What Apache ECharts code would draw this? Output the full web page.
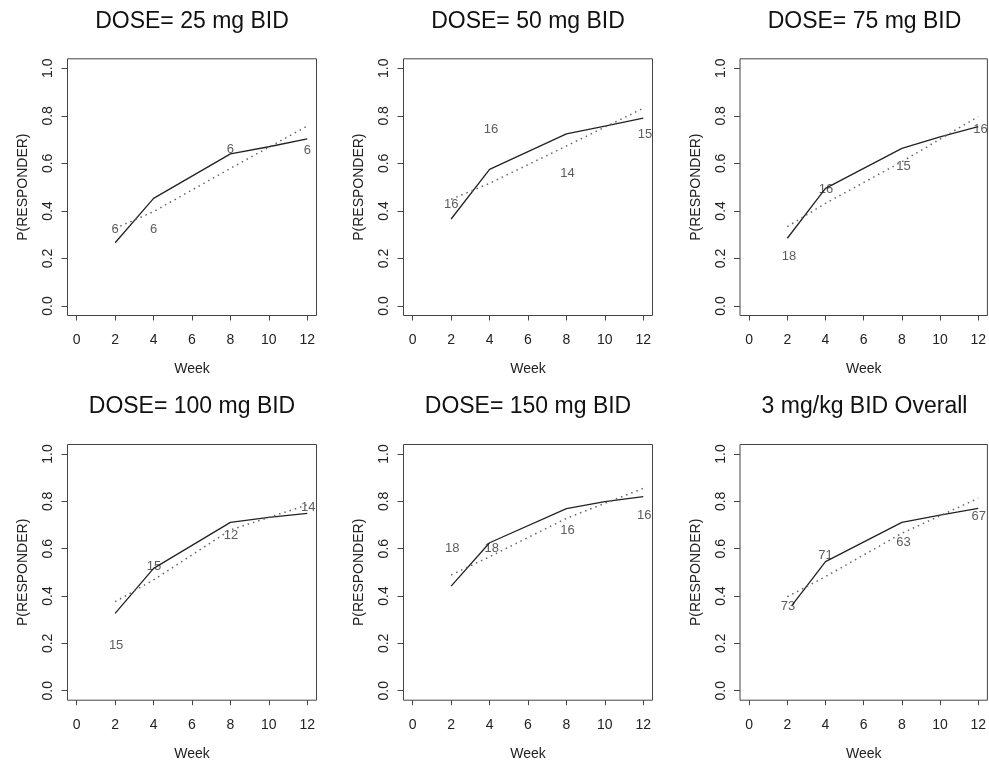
<!DOCTYPE html>
<html>
<head>
<meta charset="utf-8">
<script src="https://cdn.jsdelivr.net/npm/echarts@6/dist/echarts.min.js"></script>
<style>
  html, body { margin: 0; padding: 0; background: #fff; }
  #chart { width: 989px; height: 763px; }
</style>
</head>
<body>
<div id="chart"></div>
<script>
const titles = ['DOSE= 25 mg BID', 'DOSE= 50 mg BID', 'DOSE= 75 mg BID',
  'DOSE= 100 mg BID', 'DOSE= 150 mg BID', '3 mg/kg BID Overall']

const weekTicks = [0, 2, 4, 6, 8, 10, 12]
const probTicks = [0, 0.2, 0.4, 0.6, 0.8, 1.0]

// solid line (observed)
const solidWeeks = [2, 4, 8, 10, 12]
const solidWeeksAll = [2.25, 4, 8, 10, 12]
const solid25 = [0.266, 0.453, 0.640, 0.670, 0.703]
const solid50 = [0.366, 0.575, 0.724, 0.757, 0.790]
const solid75 = [0.285, 0.495, 0.663, 0.712, 0.755]
const solid100 = [0.327, 0.517, 0.711, 0.732, 0.749]
const solid150 = [0.442, 0.625, 0.769, 0.799, 0.820]
const solidAll = [0.362, 0.545, 0.711, 0.742, 0.770]

// dotted line (model)
const dottedWeeks = [2, 4, 8, 12]
const dotted25 = [0.327, 0.397, 0.579, 0.757]
const dotted50 = [0.449, 0.516, 0.673, 0.832]
const dotted75 = [0.334, 0.432, 0.607, 0.797]
const dotted100 = [0.376, 0.468, 0.679, 0.785]
const dotted150 = [0.489, 0.566, 0.728, 0.855]
const dottedAll = [0.397, 0.482, 0.665, 0.813]

// n labels
const labX25 = [2, 4, 8, 12]
const labY25 = [0.324, 0.324, 0.659, 0.656]
const labN25 = ['6', '6', '6', '6']
const labX50 = [2, 4.07, 8.05, 12.09]
const labY50 = [0.428, 0.741, 0.558, 0.722]
const labN50 = ['16', '16', '14', '15']
const labX75 = [2.09, 4.03, 8.09, 12.12]
const labY75 = [0.210, 0.491, 0.589, 0.741]
const labN75 = ['18', '16', '15', '16']
const labX100 = [2.05, 4.02, 8.03, 12.05]
const labY100 = [0.190, 0.527, 0.655, 0.775]
const labN100 = ['15', '15', '12', '14']
const labX150 = [2.06, 4.11, 8.06, 12.05]
const labY150 = [0.601, 0.601, 0.679, 0.742]
const labN150 = ['18', '18', '16', '16']
const labXAll = [2.03, 4.0, 8.09, 12.03]
const labYAll = [0.358, 0.573, 0.625, 0.735]
const labNAll = ['73', '71', '63', '67']

const panels = [
  { sx: solidWeeks, s: solid25, d: dotted25, lx: labX25, ly: labY25, ln: labN25 },
  { sx: solidWeeks, s: solid50, d: dotted50, lx: labX50, ly: labY50, ln: labN50 },
  { sx: solidWeeks, s: solid75, d: dotted75, lx: labX75, ly: labY75, ln: labN75 },
  { sx: solidWeeks, s: solid100, d: dotted100, lx: labX100, ly: labY100, ln: labN100 },
  { sx: solidWeeks, s: solid150, d: dotted150, lx: labX150, ly: labY150, ln: labN150 },
  { sx: solidWeeksAll, s: solidAll, d: dottedAll, lx: labXAll, ly: labYAll, ln: labNAll },
]

const FONT = "'Liberation Sans', Arial, sans-serif"
const colLeft = [67.5, 403.5, 740]
const rowTop = [58.8, 444.5]
const rowHeight = [256.7, 255.7]
const boxWidth = 249

const chart = echarts.init(document.getElementById('chart'))

const grid = [], xAxis = [], yAxis = [], series = [], title = []
panels.forEach((p, i) => {
  const c = i % 3, r = Math.floor(i / 3)
  grid.push({
    left: colLeft[c], top: rowTop[r], width: boxWidth, height: rowHeight[r],
    show: true, borderColor: '#444', borderWidth: 1, backgroundColor: 'transparent',
  })
  title.push({
    text: titles[i],
    left: colLeft[c] + boxWidth / 2,
    top: r === 0 ? 10 : 395,
    padding: 0,
    textAlign: 'center',
    textStyle: { fontFamily: FONT, fontSize: 23, fontWeight: 'normal', color: '#111' },
  })
  xAxis.push({
    gridIndex: i, type: 'value', min: -0.48, max: 12.48,
    name: 'Week', nameLocation: 'middle', nameGap: 47,
    nameTextStyle: { fontFamily: FONT, fontSize: 14, color: '#222' },
    axisLine: { show: false, onZero: false },
    axisTick: { show: true, customValues: weekTicks, length: 5, lineStyle: { color: '#444' } },
    axisLabel: { customValues: weekTicks, margin: 18, fontFamily: FONT, fontSize: 14, color: '#222' },
    splitLine: { show: false },
  })
  yAxis.push({
    gridIndex: i, type: 'value', min: -0.04, max: 1.04,
    name: 'P(RESPONDER)', nameLocation: 'middle', nameGap: 37,
    nameTextStyle: { fontFamily: FONT, fontSize: 14, color: '#222' },
    axisLine: { show: false, onZero: false },
    axisTick: { show: true, customValues: probTicks, length: 6, lineStyle: { color: '#444' } },
    axisLabel: {
      customValues: probTicks, rotate: 90, margin: 12, fontFamily: FONT, fontSize: 14, color: '#222',
      formatter: v => v.toFixed(1),
    },
    splitLine: { show: false },
  })
  series.push({
    type: 'line', xAxisIndex: i, yAxisIndex: i, silent: true, showSymbol: false,
    data: p.sx.map((x, k) => [x, p.s[k]]),
    lineStyle: { color: '#222', width: 1.3 },
  })
  series.push({
    type: 'line', xAxisIndex: i, yAxisIndex: i, silent: true, showSymbol: false,
    data: dottedWeeks.map((x, k) => [x, p.d[k]]),
    lineStyle: { color: '#666', width: 1.5, type: [1.5, 4] },
  })
  series.push({
    type: 'scatter', xAxisIndex: i, yAxisIndex: i, silent: true, symbolSize: 1,
    itemStyle: { color: 'transparent' },
    data: p.lx.map((x, k) => [x, p.ly[k], p.ln[k]]),
    label: {
      show: true, position: 'inside', formatter: q => q.value[2],
      fontFamily: FONT, fontSize: 13, color: '#333',
    },
  })
})

chart.setOption({
  animation: false,
  backgroundColor: '#fff',
  title, grid, xAxis, yAxis, series,
})
</script>
</body>
</html>
